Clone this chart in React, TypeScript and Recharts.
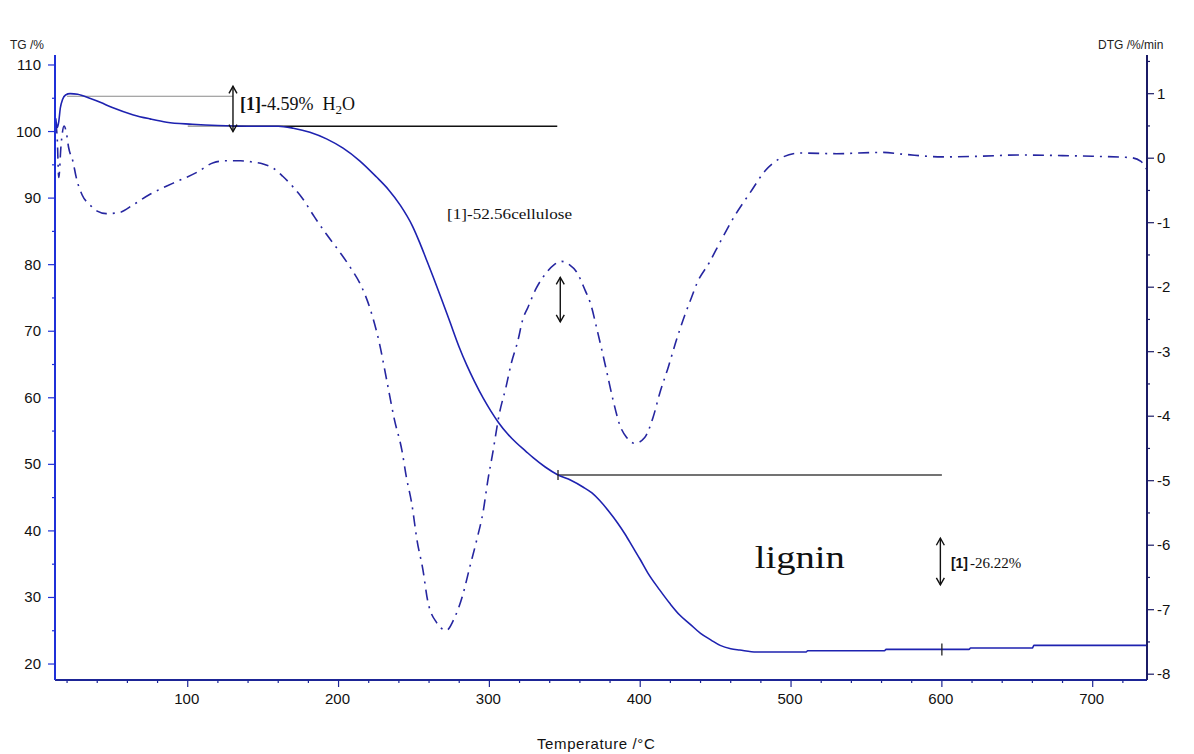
import React from 'react';
import { LineChart, Line, XAxis, YAxis, ReferenceLine, ReferenceDot } from 'recharts';

// TG curve, mass %
const tgTemp = [
  12.5, 13.5, 14.5, 15.5, 17, 19, 22, 27, 35, 42, 50, 64, 75, 86, 103, 120, 140, 160, 170, 181,
  192, 203, 214, 225, 233, 241, 249, 254, 258, 263, 268, 274, 280, 285, 290, 296, 301, 306, 312,
  318, 324, 329, 337, 345.5, 354, 362, 368, 373, 379, 385, 390, 395, 400, 405, 413, 420, 426, 433,
  440, 447, 453, 460, 466, 477, 510, 511, 562, 563, 618, 619, 660, 661, 736,
];
const tgValue = [
  102.0, 100.6, 101.5, 103.5, 104.8, 105.5, 105.7, 105.6, 105.0, 104.4, 103.6, 102.5, 101.9, 101.4,
  101.1, 100.9, 100.8, 100.8, 100.5, 99.9, 98.9, 97.5, 95.6, 93.2, 91.3, 88.9, 85.8, 83.2, 80.9,
  78.0, 75.0, 71.3, 67.6, 64.9, 62.5, 59.9, 58.0, 56.3, 54.6, 53.2, 52.0, 51.0, 49.6, 48.4, 47.6,
  46.6, 45.7, 44.6, 43.0, 41.2, 39.5, 37.6, 35.7, 33.7, 31.1, 29.0, 27.4, 26.0, 24.6, 23.6, 22.8,
  22.3, 22.1, 21.8, 21.8, 22.0, 22.0, 22.2, 22.2, 22.4, 22.4, 22.8, 22.8,
];

// DTG curve, %/min
const dtgTemp = [
  12.5, 13.5, 14.5, 16, 18, 19.5, 21, 24, 26, 30, 35, 40, 46, 55, 64, 75, 90, 106, 117, 125, 135,
  143, 150, 157, 163, 170, 176, 184, 192, 200, 208, 215, 221, 227, 232, 237, 242, 245, 248.5, 252,
  256, 259, 265, 271.5, 277, 282, 287, 291.6, 296, 299, 302, 306.7, 311, 314.5, 319, 322, 325.6,
  331, 338, 343, 348, 353, 358, 363.5, 367, 371.5, 375, 378, 382, 386.5, 391, 396.5, 403, 408.5,
  413, 418.6, 424, 429.6, 434, 437.6, 446, 453, 463, 473, 483, 493, 506, 530, 560, 575, 600, 625,
  650, 680, 700, 725, 732, 736,
];
const dtgValue = [
  0.55, 0.3, -0.3, 0.2, 0.5, 0.4, 0.17, -0.06, -0.29, -0.57, -0.72, -0.82, -0.86, -0.84, -0.72,
  -0.56, -0.39, -0.22, -0.07, -0.04, -0.04, -0.06, -0.09, -0.16, -0.28, -0.45, -0.62, -0.91, -1.18,
  -1.43, -1.7, -1.98, -2.34, -2.86, -3.45, -4.05, -4.53, -4.95, -5.35, -5.92, -6.39, -6.85, -7.2,
  -7.32, -7.12, -6.8, -6.34, -5.92, -5.46, -4.99, -4.6, -3.95, -3.55, -3.18, -2.82, -2.51, -2.31,
  -2.02, -1.77, -1.65, -1.6, -1.65, -1.77, -2.05, -2.25, -2.67, -3.02, -3.33, -3.75, -4.14, -4.33,
  -4.42, -4.33, -4.02, -3.64, -3.24, -2.82, -2.43, -2.16, -1.94, -1.61, -1.3, -0.88, -0.53, -0.19,
  0.0, 0.08, 0.07, 0.09, 0.06, 0.02, 0.03, 0.05, 0.04, 0.03, 0.01, -0.05, -0.18,
];

// axis ticks (major ones get labels)
const xMajorTicks = [100, 200, 300, 400, 500, 600, 700];
const xTicks = [
  20, 40, 60, 80, 100, 120, 140, 160, 180, 200, 220, 240, 260, 280, 300, 320, 340, 360, 380, 400,
  420, 440, 460, 480, 500, 520, 540, 560, 580, 600, 620, 640, 660, 680, 700, 720,
];
const tgMajorTicks = [20, 30, 40, 50, 60, 70, 80, 90, 100, 110];
const tgTicks = [
  20, 22.5, 25, 27.5, 30, 32.5, 35, 37.5, 40, 42.5, 45, 47.5, 50, 52.5, 55, 57.5, 60, 62.5, 65,
  67.5, 70, 72.5, 75, 77.5, 80, 82.5, 85, 87.5, 90, 92.5, 95, 97.5, 100, 102.5, 105, 107.5, 110,
];
const dtgMajorTicks = [-8, -7, -6, -5, -4, -3, -2, -1, 0, 1];
const dtgTicks = [
  -8, -7.75, -7.5, -7.25, -7, -6.75, -6.5, -6.25, -6, -5.75, -5.5, -5.25, -5, -4.75, -4.5, -4.25,
  -4, -3.75, -3.5, -3.25, -3, -2.75, -2.5, -2.25, -2, -1.75, -1.5, -1.25, -1, -0.75, -0.5, -0.25,
  0, 0.25, 0.5, 0.75, 1, 1.25, 1.5,
];

const tgData = tgTemp.map((t, i) => ({ t, tg: tgValue[i] }));
const dtgData = dtgTemp.map((t, i) => ({ t, dtg: dtgValue[i] }));

const LEFT_BLUE = '#1f30d8';
const RIGHT_NAVY = '#1b1b66';
const BOTTOM_AXIS = '#1d2596';
const TG_COLOR = '#1e22b0';
const DTG_COLOR = '#2626a0';
const SANS = 'Arial, "Liberation Sans", sans-serif';
const SERIF = '"Times New Roman", "Liberation Serif", serif';

const tickText = { fontFamily: SANS, fontSize: 15, fill: '#111' };

function XTick({ x, y, payload }: any) {
  const major = xMajorTicks.includes(payload.value);
  return (
    <g>
      <line x1={x} x2={x} y1={y} y2={y + (major ? 7 : 3)} stroke={BOTTOM_AXIS} strokeWidth={1.2} />
      {major && (
        <text x={x - 1} y={y + 24} textAnchor="middle" {...tickText}>
          {payload.value}
        </text>
      )}
    </g>
  );
}

function LeftTick({ x, y, payload }: any) {
  const major = tgMajorTicks.includes(payload.value);
  return (
    <g>
      <line x1={x} x2={x - (major ? 7 : 3)} y1={y} y2={y} stroke={LEFT_BLUE} strokeWidth={1.2} />
      {major && (
        <text x={x - 14} y={y + 5} textAnchor="end" {...tickText}>
          {payload.value}
        </text>
      )}
    </g>
  );
}

function RightTick({ x, y, payload }: any) {
  const major = dtgMajorTicks.includes(payload.value);
  return (
    <g>
      <line x1={x} x2={x + (major ? 7 : 3)} y1={y} y2={y} stroke={RIGHT_NAVY} strokeWidth={1.2} />
      {major && (
        <text x={x + 10} y={y + 5} textAnchor="start" {...tickText}>
          {payload.value}
        </text>
      )}
    </g>
  );
}

// vertical double-headed arrow
function DoubleArrow(props: any) {
  const { x1, y1, x2, y2 } = props;
  const top = Math.min(y1, y2);
  const bot = Math.max(y1, y2);
  const s = '#111';
  return (
    <g>
      <line x1={x1} x2={x2} y1={top} y2={bot} stroke={s} strokeWidth={1.4} />
      <path d={`M${x1 - 4},${top + 7} L${x1},${top} L${x1 + 4},${top + 7}`} fill="none" stroke={s} strokeWidth={1.4} />
      <path d={`M${x1 - 4},${bot - 7} L${x1},${bot} L${x1 + 4},${bot - 7}`} fill="none" stroke={s} strokeWidth={1.4} />
    </g>
  );
}

const tickMark = (h: number) => (p: any) =>
  <line x1={p.cx} x2={p.cx} y1={p.cy - h} y2={p.cy + h} stroke="#222" strokeWidth={1.3} />;

export default function App() {
  return (
    <div style={{ position: 'absolute', left: 0, top: 0, width: 1194, height: 754, background: '#fff' }}>
      <LineChart width={1194} height={754} margin={{ top: 55, right: 0, bottom: 34, left: 0 }}>
        <XAxis
          dataKey="t"
          type="number"
          domain={[12, 736]}
          ticks={xTicks}
          allowDataOverflow
          height={40}
          tickSize={0}
          tickMargin={0}
          tickLine={false}
          tick={<XTick />}
          axisLine={{ stroke: BOTTOM_AXIS, strokeWidth: 2 }}
        />
        <YAxis
          yAxisId="tg"
          type="number"
          domain={[17.6, 111.5]}
          ticks={tgTicks}
          allowDataOverflow
          width={55}
          tickSize={0}
          tickMargin={0}
          tickLine={false}
          tick={<LeftTick />}
          axisLine={{ stroke: LEFT_BLUE, strokeWidth: 2 }}
        />
        <YAxis
          yAxisId="dtg"
          orientation="right"
          type="number"
          domain={[-8.09, 1.6]}
          ticks={dtgTicks}
          allowDataOverflow
          width={47}
          tickSize={0}
          tickMargin={0}
          tickLine={false}
          tick={<RightTick />}
          axisLine={{ stroke: RIGHT_NAVY, strokeWidth: 2 }}
        />

        {/* annotation lines */}
        <ReferenceLine yAxisId="tg" segment={[{ x: 20, y: 105.3 }, { x: 130, y: 105.3 }]} stroke="#8a8a8a" strokeWidth={1.2} />
        <ReferenceLine yAxisId="tg" segment={[{ x: 100, y: 100.8 }, { x: 130, y: 100.8 }]} stroke="#8a8a8a" strokeWidth={1.2} />
        <ReferenceLine yAxisId="tg" segment={[{ x: 130, y: 100.8 }, { x: 345, y: 100.8 }]} stroke="#111" strokeWidth={1.6} />
        <ReferenceLine yAxisId="tg" segment={[{ x: 345.5, y: 48.4 }, { x: 600, y: 48.4 }]} stroke="#444" strokeWidth={1.6} />

        <Line
          data={dtgData}
          yAxisId="dtg"
          dataKey="dtg"
          type="monotone"
          stroke={DTG_COLOR}
          strokeWidth={1.6}
          strokeDasharray="11 6 2 6"
          dot={false}
          isAnimationActive={false}
        />
        <Line
          data={tgData}
          yAxisId="tg"
          dataKey="tg"
          type="monotone"
          stroke={TG_COLOR}
          strokeWidth={1.6}
          dot={false}
          isAnimationActive={false}
        />

        <ReferenceLine yAxisId="tg" segment={[{ x: 130, y: 106.8 }, { x: 130, y: 100.0 }]} shape={DoubleArrow} />
        <ReferenceLine yAxisId="tg" segment={[{ x: 347, y: 78.1 }, { x: 347, y: 71.4 }]} shape={DoubleArrow} />
        <ReferenceLine yAxisId="tg" segment={[{ x: 599, y: 38.9 }, { x: 599, y: 31.9 }]} shape={DoubleArrow} />

        <ReferenceDot yAxisId="tg" x={345.5} y={48.4} shape={tickMark(5)} />
        <ReferenceDot yAxisId="tg" x={600} y={22.2} shape={tickMark(6)} />

        {/* text labels */}
        <ReferenceDot
          yAxisId="tg"
          x={134.6}
          y={103.2}
          shape={(p: any) => (
            <text x={p.cx} y={p.cy} fontFamily={SERIF} fontSize={18} fill="#111">
              <tspan fontWeight="bold">[1]</tspan>
              <tspan>-4.59%</tspan>
              <tspan dx={9}>H</tspan>
              <tspan dy={4} fontSize={13}>2</tspan>
              <tspan dy={-4}>O</tspan>
            </text>
          )}
        />
        <ReferenceDot
          yAxisId="tg"
          x={271.9}
          y={86.9}
          shape={(p: any) => (
            <text x={p.cx} y={p.cy} fontFamily={SERIF} fontSize={15} fill="#111" textLength={125} lengthAdjust="spacingAndGlyphs">
              [1]-52.56cellulose
            </text>
          )}
        />
        <ReferenceDot
          yAxisId="tg"
          x={476}
          y={34.4}
          shape={(p: any) => (
            <text x={p.cx} y={p.cy} fontFamily={SERIF} fontSize={31} fill="#111" textLength={90} lengthAdjust="spacingAndGlyphs">
              lignin
            </text>
          )}
        />
        <ReferenceDot
          yAxisId="tg"
          x={606}
          y={34.4}
          shape={(p: any) => (
            <text x={p.cx} y={p.cy} fontFamily={SERIF} fontSize={15} fill="#111">
              <tspan fontFamily={SANS} fontWeight="bold" fontSize={14}>[1]</tspan>
              <tspan dx={2}>-26.22%</tspan>
            </text>
          )}
        />
      </LineChart>

      <div style={{ position: 'absolute', left: 10, top: 38, fontFamily: SANS, fontSize: 12, color: '#222' }}>TG /%</div>
      <div style={{ position: 'absolute', left: 1098, top: 38, fontFamily: SANS, fontSize: 12, color: '#222' }}>DTG /%/min</div>
      <div style={{ position: 'absolute', left: 537, top: 735, fontFamily: SANS, fontSize: 15, letterSpacing: 0.6, color: '#111' }}>
        Temperature /°C
      </div>
    </div>
  );
}
